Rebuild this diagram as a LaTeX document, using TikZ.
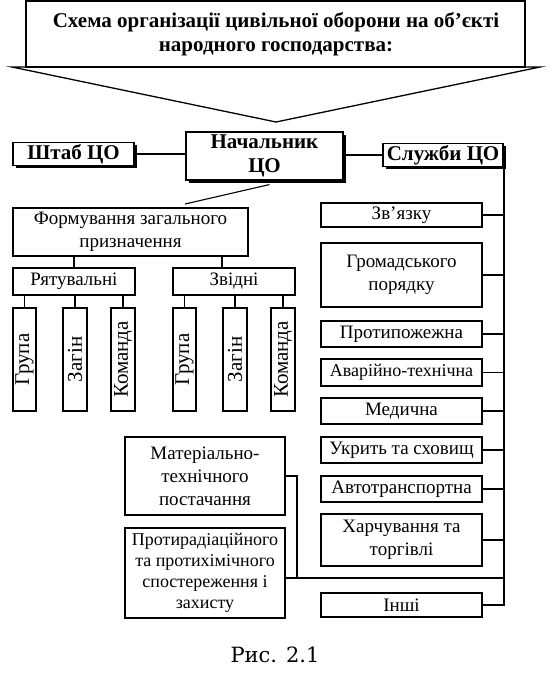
\documentclass[tikz,border=0pt]{standalone}
\usepackage{fontspec}
\setmainfont{Liberation Serif}
\newfontfamily\capfont{DejaVu Serif}
\usetikzlibrary{shadows}

\begin{document}
\begin{tikzpicture}[x=1pt, y=-1pt,
    box/.style={draw, line width=1.1pt, inner sep=0pt, align=center, fill=white, font=\fontsize{19}{23}\selectfont},
    headbox/.style={box, font=\bfseries\fontsize{21}{24}\selectfont, drop shadow={shadow xshift=2.5pt, shadow yshift=-2.5pt, opacity=1, fill=black}},
    tallbox/.style={box, rotate=90, minimum width=103pt, minimum height=24pt, font=\fontsize{21}{24}\selectfont},
    rbox/.style={box, minimum width=161pt},
    link/.style={line width=1.1pt}]

      \useasboundingbox (0,0) rectangle (555,683);

      % title arrow
      \draw[line width=1.3pt] (26,1) rectangle (525,67);
      \draw[line width=1.3pt] (12,67) -- (540,67) -- (276,122) -- cycle;
      \node[font=\bfseries\fontsize{21}{24}\selectfont, align=center] (title) at (276,34) {Схема організації цивільної оборони на об’єкті\\народного господарства:};

      % top row
      \node[headbox, minimum width=157pt, minimum height=48pt] (nach) at (264.5,156) {Начальник\\ЦО};
      \node[headbox, minimum width=121pt, minimum height=23pt] (shtab) at (73.5,154) {Штаб ЦО};
      \node[headbox, minimum width=120pt, minimum height=23pt] (sluzh) at (443,155) {Служби ЦО};

      \draw[link] (shtab.east) -- (shtab.east -| nach.west);
      \draw[link] (nach.east |- sluzh.west) -- (sluzh.west);

      % formations
      \node[box, minimum width=235pt, minimum height=48pt] (form) at (130.5,232) {Формування загального\\призначення};
      \coordinate (fk) at (185,204);
      \draw[link] ([xshift=5pt, yshift=-4pt]nach.south) -- (fk);

      \node[box, minimum width=122pt, minimum height=27pt] (ryat) at (74,281.5) {Рятувальні};
      \node[box, minimum width=122pt, minimum height=27pt] (zvid) at (234,281.5) {Звідні};
      \draw[link] (ryat.north |- form.south) -- (ryat.north);
      \draw[link] ([xshift=-12pt]zvid.north |- form.south) -- ([xshift=-12pt]zvid.north);

      \node[tallbox, minimum height=23pt] (gr1) at (24.5,359.5) {Група};
      \node[tallbox] (zg1) at (75,359.5) {Загін};
      \node[tallbox] (km1) at (123,359.5) {Команда};
      \node[tallbox, minimum height=23pt] (gr2) at (184.5,359.5) {Група};
      \node[tallbox] (zg2) at (235,359.5) {Загін};
      \node[tallbox] (km2) at (283,359.5) {Команда};

      \foreach \b in {gr1,zg1,km1}
        \draw[link] (ryat.south -| \b.east) -- (\b.east);
      \foreach \b in {gr2,zg2,km2}
        \draw[link] (zvid.south -| \b.east) -- (\b.east);

      % services
      \node[rbox, minimum height=24pt] (zv) at (401.5,215) {Зв’язку};
      \node[rbox, minimum height=64pt] (grom) at (401.5,275) {Громадського\\порядку};
      \node[rbox, minimum height=26pt] (prot) at (401.5,334) {Протипожежна};
      \node[rbox, minimum height=27pt, font=\fontsize{18}{22}\selectfont] (avar) at (401.5,372.5) {Аварійно-технічна};
      \node[rbox, minimum height=26pt] (med) at (401.5,411) {Медична};
      \node[rbox, minimum height=26pt] (ukr) at (401.5,450) {Укрить та сховищ};
      \node[rbox, minimum height=26pt] (avto) at (401.5,489) {Автотранспортна};
      \node[rbox, minimum height=52pt] (harch) at (401.5,540) {Харчування та\\торгівлі};
      \node[rbox, minimum height=24pt] (inshi) at (401.5,605) {Інші};

      \coordinate (tr) at (504,0);
      \draw[link] (sluzh.south -| tr) -- (inshi.east -| tr) -- (inshi.east);
      \foreach \b in {zv,grom,prot,avar,med,ukr,avto,harch}
        \draw[link] (\b.east) -- (\b.east -| tr);

      % supply and protection
      \node[box, minimum width=160pt, minimum height=78pt] (mat) at (205,476) {Матеріально-\\технічного\\постачання};
      \node[box, minimum width=160pt, minimum height=90pt, font=\fontsize{18}{21}\selectfont] (prz) at (205,573) {Протирадіаційного\\та протихімічного\\спостереження і\\захисту};

      \coordinate (j) at (297,578);
      \draw[link] (mat.east) -| (j);
      \draw[link] (prz.east |- j) -- (j -| tr);

      \node[font=\capfont\fontsize{21}{24}\selectfont] (cap) at (275,655) {Рис. 2.1};

    \end{tikzpicture}
\end{document}
